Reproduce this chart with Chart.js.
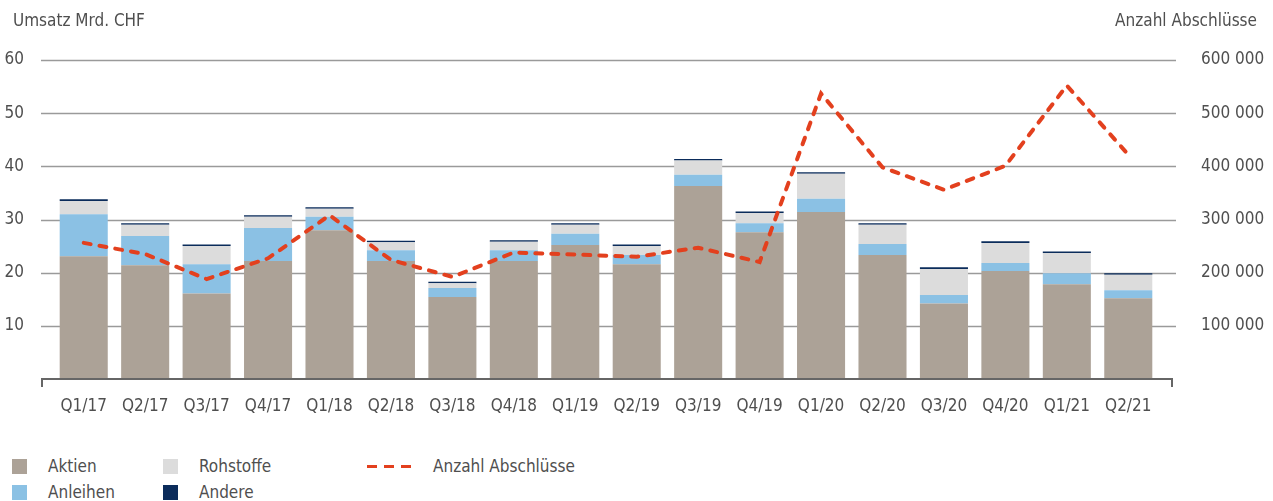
<!DOCTYPE html>
<html>
<head>
<meta charset="utf-8">
<script src="https://cdn.jsdelivr.net/npm/chart.js@4/dist/chart.umd.min.js"></script>
<style>
    body { margin: 0; background: #fff; }
    #wrap { position: relative; width: 1273px; height: 501px; }
    #box { position: absolute; left: 0; top: 0; width: 1273px; height: 425px; }
    .leg { position: absolute; font-family: "Liberation Sans Narrow", "DejaVu Sans Condensed", sans-serif; font-size: 17px; color: #4f4f4f; line-height: 20px; }
    .sw { position: absolute; width: 15px; height: 15px; }
    .dash { position: absolute; width: 44px; height: 3px;
            background: repeating-linear-gradient(to right, #e3401e 0 10px, transparent 10px 17px); }
</style>
</head>
<body>
<div id="wrap">
    <div id="box"><canvas id="chart"></canvas></div>
    <div id="legend"></div>
</div>
<script>
const quarters = ['Q1/17','Q2/17','Q3/17','Q4/17','Q1/18','Q2/18','Q3/18','Q4/18','Q1/19','Q2/19','Q3/19','Q4/19','Q1/20','Q2/20','Q3/20','Q4/20','Q1/21','Q2/21'];
const aktien = [23.1,21.4,16.1,22.2,28.0,22.2,15.4,22.2,25.2,21.6,36.3,27.6,31.4,23.3,14.2,20.3,17.8,15.2];
const anleihen = [7.9,5.5,5.5,6.2,2.5,2.0,1.7,2.0,2.1,1.7,2.1,1.7,2.5,2.1,1.6,1.5,2.1,1.5];
const rohstoffe = [2.5,2.1,3.4,2.1,1.5,1.5,0.9,1.6,1.7,1.7,2.7,1.9,4.7,3.6,4.9,3.8,3.8,2.9];
const andere = [0.3,0.3,0.3,0.3,0.3,0.3,0.3,0.3,0.3,0.3,0.3,0.3,0.3,0.3,0.3,0.3,0.3,0.3];
const abschluesse = [256000,235000,188000,227000,308000,224000,192000,238000,234000,230000,247000,220000,537000,398000,356000,401000,552000,422000];

const FONT = '"Liberation Sans Narrow", "DejaVu Sans Condensed", sans-serif';
const TEXT = '#4f4f4f';

// grid + axis drawn a bit wider than the plot area, like the original
const framePlugin = {
    id: 'frame',
    beforeDatasetsDraw(chart) {
        const ctx = chart.ctx;
        const y = chart.scales.y;
        ctx.save();
        ctx.strokeStyle = '#9a9a9a';
        ctx.lineWidth = 1.5;
        [10,20,30,40,50,60].forEach(v => {
            const py = Math.round(y.getPixelForValue(v)) + 0.5;
            ctx.beginPath();
            ctx.moveTo(41, py);
            ctx.lineTo(1176, py);
            ctx.stroke();
        });
        ctx.restore();
    },
    afterDatasetsDraw(chart) {
        const ctx = chart.ctx;
        const by = chart.scales.y.getPixelForValue(0);
        ctx.save();
        ctx.strokeStyle = '#666';
        ctx.lineWidth = 2;
        ctx.beginPath();
        ctx.moveTo(42, by + 8);
        ctx.lineTo(42, by);
        ctx.lineTo(1172, by);
        ctx.lineTo(1172, by + 8);
        ctx.stroke();
        ctx.fillStyle = TEXT;
        ctx.font = '17px ' + FONT;
        ctx.textBaseline = 'middle';
        ctx.textAlign = 'left';
        ctx.fillText('Umsatz Mrd. CHF', 13, 22);
        ctx.textAlign = 'right';
        ctx.fillText('Anzahl Abschlüsse', 1257, 22);
        ctx.restore();
    }
};

const CHART = document.querySelector('#chart');

const data = {
    labels: quarters,
    datasets: [
        { type: 'line', label: 'Anzahl Abschlüsse', data: abschluesse, yAxisID: 'y1', order: 0,
          borderColor: '#e3401e', borderWidth: 4, borderDash: [7, 9], borderCapStyle: 'round',
          pointRadius: 0, tension: 0, fill: false },
        { label: 'Aktien', data: aktien, backgroundColor: '#aca297', order: 1 },
        { label: 'Anleihen', data: anleihen, backgroundColor: '#8bc1e4', order: 1 },
        { label: 'Rohstoffe', data: rohstoffe, backgroundColor: '#dcdcdc', order: 1 },
        { label: 'Andere', data: andere, backgroundColor: '#0b2c5b', order: 1 }
    ]
};

new Chart(CHART, {
    type: 'bar',
    data: data,
    plugins: [framePlugin],
    options: {
        responsive: true,
        maintainAspectRatio: false,
        animation: false,
        layout: { padding: { top: 60, left: 0, right: 0, bottom: 0 } },
        datasets: { bar: { categoryPercentage: 1, barPercentage: 0.782 } },
        plugins: { legend: { display: false }, tooltip: { enabled: false } },
        scales: {
            x: {
                stacked: true,
                offset: true,
                grid: { display: false },
                border: { display: false },
                ticks: { color: TEXT, font: { family: FONT, size: 17 }, padding: 9, maxRotation: 0 },
                afterFit(s) { s.height = 46; }
            },
            y: {
                stacked: true,
                min: 0, max: 60,
                position: 'left',
                grid: { display: false },
                border: { display: false },
                ticks: { stepSize: 10, color: TEXT, font: { family: FONT, size: 17 }, padding: 21,
                         callback: v => v === 0 ? '' : v },
                afterFit(s) { s.width = 53; }
            },
            y1: {
                min: 0, max: 600000,
                position: 'right',
                grid: { display: false },
                border: { display: false },
                ticks: { stepSize: 100000, color: TEXT, font: { family: FONT, size: 17 }, padding: 34,
                         callback: v => v === 0 ? '' : String(v).replace(/\B(?=(\d{3})+(?!\d))/g, ' ') },
                afterFit(s) { s.width = 114; }
            }
        }
    }
});

// legend, built from the datasets
const legendItems = [
    { name: 'Aktien', color: '#aca297', x: 12, y: 466 },
    { name: 'Anleihen', color: '#8bc1e4', x: 12, y: 492 },
    { name: 'Rohstoffe', color: '#dcdcdc', x: 163, y: 466 },
    { name: 'Andere', color: '#0b2c5b', x: 163, y: 492 },
    { name: 'Anzahl Abschlüsse', line: true, x: 367, y: 466 }
];
const LEG = document.querySelector('#legend');
legendItems.forEach(it => {
    if (it.line) {
        const d = document.createElement('div');
        d.className = 'dash';
        d.style.left = it.x + 'px';
        d.style.top = (it.y - 1) + 'px';
        LEG.appendChild(d);
    } else {
        const s = document.createElement('div');
        s.className = 'sw';
        s.style.left = it.x + 'px';
        s.style.top = (it.y - 7) + 'px';
        s.style.background = it.color;
        LEG.appendChild(s);
    }
    const t = document.createElement('div');
    t.className = 'leg';
    t.textContent = it.name;
    t.style.left = (it.line ? it.x + 66 : it.x + 36) + 'px';
    t.style.top = (it.y - 10) + 'px';
    LEG.appendChild(t);
});
</script>
</body>
</html>
